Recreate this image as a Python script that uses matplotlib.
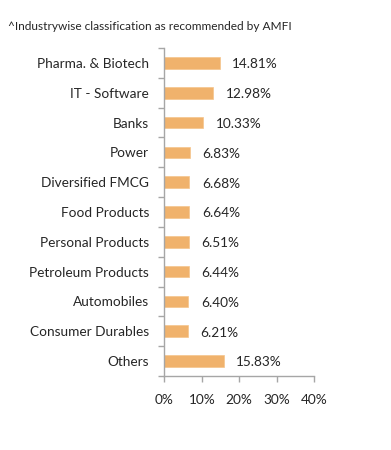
import matplotlib
matplotlib.use("Agg")
import matplotlib.pyplot as plt
from matplotlib.ticker import FixedLocator

categories = ["Pharma. & Biotech", "IT - Software", "Banks", "Power", "Diversified FMCG",
              "Food Products", "Personal Products", "Petroleum Products", "Automobiles",
              "Consumer Durables", "Others"]
values = [14.81, 12.98, 10.33, 6.83, 6.68, 6.64, 6.51, 6.44, 6.40, 6.21, 15.83]
value_labels = ["14.81%", "12.98%", "10.33%", "6.83%", "6.68%", "6.64%", "6.51%",
                "6.44%", "6.40%", "6.21%", "15.83%"]
xticks = [0, 10, 20, 30, 40]
xtick_labels = ["0%", "10%", "20%", "30%", "40%"]
title = "^Industrywise classification as recommended by AMFI"

plt.rcParams['font.family'] = ['Lato', 'DejaVu Sans']
text_color = "#262626"
axis_color = "#a6a6a6"
bar_color = "#f0b26c"
fs = 9.8

fig = plt.figure(figsize=(3.91, 4.5), dpi=100)
ax = fig.add_axes([0.4207, 0.1644, 0.3823, 0.7289])

ypos = list(range(len(categories)))
ax.barh(ypos, values, height=0.39, color=bar_color, edgecolor="#f5c48c", linewidth=0.5)
for y, v, lab in zip(ypos, values, value_labels):
    ax.annotate(lab, xy=(v, y), xytext=(9, -1), textcoords="offset points",
                ha="left", va="center", fontsize=fs, color=text_color)

ax.set_ylim(len(categories) - 0.5, -0.5)
ax.set_xlim(0, 40)
ax.set_yticks(ypos)
ax.set_yticklabels(categories, fontsize=fs, color=text_color)
ax.yaxis.set_minor_locator(FixedLocator([i - 0.5 for i in range(len(categories) + 1)]))
ax.tick_params(axis="y", which="major", length=0, pad=11)
ax.tick_params(axis="y", which="minor", length=4, color=axis_color, width=1)
ax.set_xticks(xticks)
ax.set_xticklabels(xtick_labels, fontsize=fs, color=text_color)
ax.tick_params(axis="x", length=4, color=axis_color, width=1, pad=9)

for s in ["top", "right"]:
    ax.spines[s].set_visible(False)
for s in ["left", "bottom"]:
    ax.spines[s].set_color(axis_color)
    ax.spines[s].set_linewidth(1)

fig.text(0.02, 0.94, title, fontsize=8.6, color=text_color, ha="left", va="center")

fig.savefig("out.png", dpi=100, facecolor="white")
